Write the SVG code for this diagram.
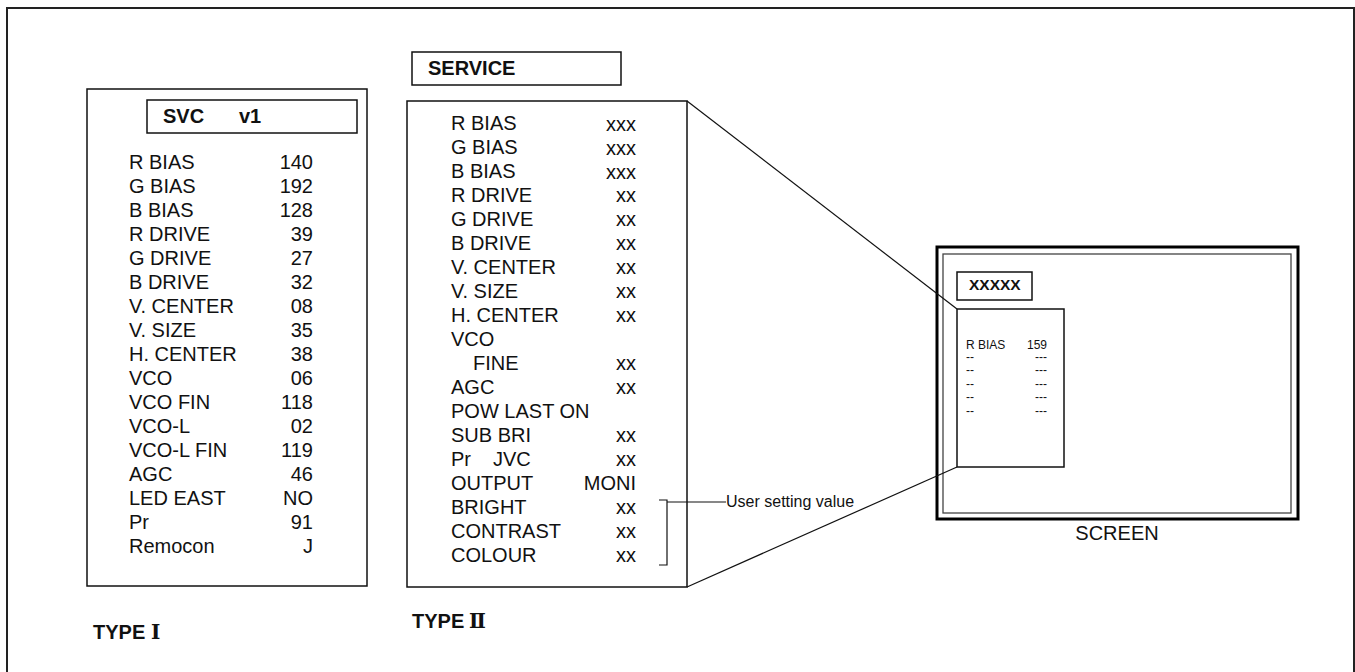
<svg xmlns="http://www.w3.org/2000/svg" width="1355" height="672" viewBox="0 0 1355 672">
<style>
text{font-family:"Liberation Sans","Noto Sans CJK JP",Arial,sans-serif;fill:#111}
.t{font-size:20px}
.b{font-weight:bold}
.v{text-anchor:end}
.s{font-size:12px}
.rn{font-family:"DejaVu Serif","Noto Sans CJK JP",serif;font-weight:bold}
.box{fill:none;stroke:#111;stroke-width:1.5}
.ln{fill:none;stroke:#111;stroke-width:1.2}
</style>
<rect width="1355" height="672" fill="#fff"/>
<rect id="frame" x="7" y="8" width="1347" height="700" fill="none" stroke="#222" stroke-width="2"/>

<g id="type1">
<rect class="box" x="87" y="89" width="280" height="497"/>
<rect class="box" x="147" y="100" width="210" height="33"/>
<text class="t b" x="163" y="123">SVC</text>
<text class="t b" x="239" y="123">v1</text>
<g class="t">
<text x="129" y="169">R BIAS</text><text class="v" x="313" y="169">140</text>
<text x="129" y="193">G BIAS</text><text class="v" x="313" y="193">192</text>
<text x="129" y="217">B BIAS</text><text class="v" x="313" y="217">128</text>
<text x="129" y="241">R DRIVE</text><text class="v" x="313" y="241">39</text>
<text x="129" y="265">G DRIVE</text><text class="v" x="313" y="265">27</text>
<text x="129" y="289">B DRIVE</text><text class="v" x="313" y="289">32</text>
<text x="129" y="313">V. CENTER</text><text class="v" x="313" y="313">08</text>
<text x="129" y="337">V. SIZE</text><text class="v" x="313" y="337">35</text>
<text x="129" y="361">H. CENTER</text><text class="v" x="313" y="361">38</text>
<text x="129" y="385">VCO</text><text class="v" x="313" y="385">06</text>
<text x="129" y="409">VCO FIN</text><text class="v" x="313" y="409">118</text>
<text x="129" y="433">VCO-L</text><text class="v" x="313" y="433">02</text>
<text x="129" y="457">VCO-L FIN</text><text class="v" x="313" y="457">119</text>
<text x="129" y="481">AGC</text><text class="v" x="313" y="481">46</text>
<text x="129" y="505">LED EAST</text><text class="v" x="313" y="505">NO</text>
<text x="129" y="529">Pr</text><text class="v" x="313" y="529">91</text>
<text x="129" y="553">Remocon</text><text class="v" x="313" y="553">J</text>
</g>
<text class="t b" x="93" y="639">TYPE <tspan class="rn" x="151">Ⅰ</tspan></text>
</g>

<g id="type2">
<rect class="box" x="412" y="52" width="209" height="33"/>
<text class="t b" x="428" y="75">SERVICE</text>
<rect class="box" x="407" y="101" width="280" height="486"/>
<g class="t">
<text x="451" y="130">R BIAS</text><text class="v" x="636" y="131">xxx</text>
<text x="451" y="154">G BIAS</text><text class="v" x="636" y="155">xxx</text>
<text x="451" y="178">B BIAS</text><text class="v" x="636" y="179">xxx</text>
<text x="451" y="202">R DRIVE</text><text class="v" x="636" y="202">xx</text>
<text x="451" y="226">G DRIVE</text><text class="v" x="636" y="226">xx</text>
<text x="451" y="250">B DRIVE</text><text class="v" x="636" y="250">xx</text>
<text x="451" y="274">V. CENTER</text><text class="v" x="636" y="274">xx</text>
<text x="451" y="298">V. SIZE</text><text class="v" x="636" y="298">xx</text>
<text x="451" y="322">H. CENTER</text><text class="v" x="636" y="322">xx</text>
<text x="451" y="346">VCO</text>
<text x="473" y="370">FINE</text><text class="v" x="636" y="370">xx</text>
<text x="451" y="394">AGC</text><text class="v" x="636" y="394">xx</text>
<text x="451" y="418">POW LAST ON</text>
<text x="451" y="442">SUB BRI</text><text class="v" x="636" y="442">xx</text>
<text x="451" y="466">Pr</text><text x="493" y="466">JVC</text><text class="v" x="636" y="466">xx</text>
<text x="451" y="490">OUTPUT</text><text class="v" x="636" y="490">MONI</text>
<text x="451" y="514">BRIGHT</text><text class="v" x="636" y="514">xx</text>
<text x="451" y="538">CONTRAST</text><text class="v" x="636" y="538">xx</text>
<text x="451" y="562">COLOUR</text><text class="v" x="636" y="562">xx</text>
</g>
<path class="ln" d="M659,500 H667 V565 H659"/>
<text class="t b" x="412" y="628">TYPE<tspan class="rn" x="469">Ⅱ</tspan></text>
</g>

<g id="screen">
<rect x="937" y="247" width="361" height="272" fill="none" stroke="#000" stroke-width="3"/>
<rect x="943" y="254" width="348" height="259" fill="none" stroke="#444" stroke-width="1.3"/>
<rect class="box" x="957" y="272" width="75" height="28"/>
<text class="b" font-size="15.5" x="969" y="290" fill="#111">XXXXX</text>
<rect class="box" x="957" y="309" width="107" height="158"/>
<text class="s" x="966" y="349" fill="#111">R BIAS</text><text class="s v" x="1047" y="349" fill="#111">159</text>
<text class="s" x="966" y="360.5">--</text><text class="s v" x="1047" y="360.5">---</text>
<text class="s" x="966" y="374">--</text><text class="s v" x="1047" y="374">---</text>
<text class="s" x="966" y="387.5">--</text><text class="s v" x="1047" y="387.5">---</text>
<text class="s" x="966" y="401">--</text><text class="s v" x="1047" y="401">---</text>
<text class="s" x="966" y="414.5">--</text><text class="s v" x="1047" y="414.5">---</text>
<text class="t" x="1117" y="540" text-anchor="middle">SCREEN</text>
</g>

<g id="connectors">
<path class="ln" d="M687,101 L957,309"/>
<path class="ln" d="M687,587 L957,467"/>
<path class="ln" d="M667,502 H726"/>
<text font-size="16" x="726" y="507">User setting value</text>
</g>
</svg>
